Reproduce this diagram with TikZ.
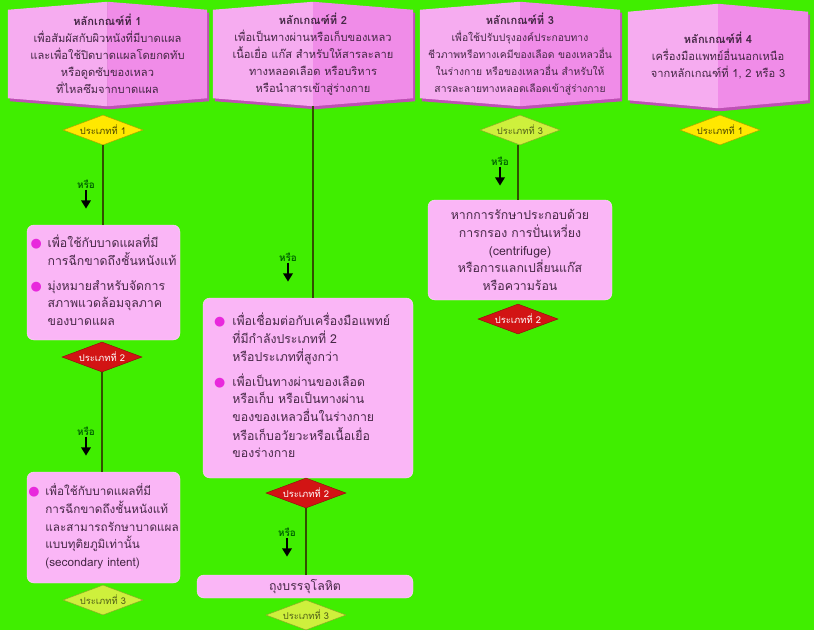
\documentclass[tikz,border=0pt]{standalone}
\usepackage{fontspec}
\setmainfont[Script=Thai]{Loma}
\newfontfamily\dotfont{DejaVu Sans}
\usepackage{tikz}
\usetikzlibrary{shapes.geometric}
\usetikzlibrary{positioning}
\usetikzlibrary{calc}
\usetikzlibrary{backgrounds}
\usetikzlibrary{arrows.meta}

\definecolor{bggreen}{RGB}{64,238,0}
\definecolor{hdrlight}{RGB}{246,172,240}
\definecolor{hdrdark}{RGB}{240,140,232}
\definecolor{hdrshade}{RGB}{190,80,180}
\definecolor{boxpink}{RGB}{250,182,246}
\definecolor{boxedge}{RGB}{255,215,252}
\definecolor{bulmag}{RGB}{232,40,220}
\definecolor{inktext}{RGB}{70,40,70}
\definecolor{linkcol}{RGB}{50,80,0}
\definecolor{orgreen}{RGB}{0,100,0}
\definecolor{typeone}{RGB}{255,232,0}
\definecolor{typetwo}{RGB}{210,20,20}
\definecolor{typethree}{RGB}{206,240,60}

\newdimen\pu \pu=0.03cm

\newcommand{\blt}{{\dotfont\fontsize{11}{11}\selectfont\textcolor{bulmag}{●}}}

% folded banner behind a header node
\newcommand{\banner}[1]{%
  \fill[hdrshade] ($(#1.north west)+(2,11)$) -- ($(#1.north)+(2,3)$) -- ($(#1.north east)+(2,11)$)
    -- ($(#1.south east)+(2,-5)$) -- ($(#1.south)+(2,3)$) -- ($(#1.south west)+(2,-5)$) -- cycle;
  \fill[hdrlight] ($(#1.north west)+(0,8)$) -- (#1.north) -- (#1.south) -- ($(#1.south west)+(0,-8)$) -- cycle;
  \fill[hdrdark] (#1.north) -- ($(#1.north east)+(0,8)$) -- ($(#1.south east)+(0,-8)$) -- (#1.south) -- cycle;}

\tikzset{
  header/.style={minimum height=104*\pu, inner sep=0pt, align=center, text=inktext,
    font=\fontsize{9.5}{14.5}\selectfont},
  box/.style={draw=boxedge, fill=boxpink, rounded corners=7*\pu, inner sep=0pt,
    text=inktext, align=center, font=\fontsize{10.5}{15}\selectfont},
  kind/.style={diamond, aspect=2.6, inner sep=0pt, minimum width=80*\pu,
    minimum height=30*\pu, font=\fontsize{8}{8}\selectfont},
  kindone/.style={kind, fill=typeone, draw=typeone!70!black, text=black!70!typeone},
  kindtwo/.style={kind, fill=typetwo, draw=typetwo!70!black, text=white},
  kindthree/.style={kind, fill=typethree, draw=typethree!70!black, text=black!60!typethree},
  link/.style={draw=linkcol, line width=1.4*\pu},
  orlabel/.style={text=orgreen, inner sep=1pt, font=\bfseries\fontsize{8.5}{8.5}\selectfont},
  orarrow/.style={-{Triangle[width=8pt,length=7pt]}, line width=1.9pt, black}
}

\begin{document}
\begin{tikzpicture}[x=0.03cm, y=-0.03cm]
  \useasboundingbox (0,0) rectangle (814,630);
  \begin{scope}[on background layer]
    \fill[bggreen] (0,0) rectangle (814,630);
  \end{scope}

  % headers
  \node[header, minimum width=199*\pu] (h1) at (107.5,54) {\textbf{หลักเกณฑ์ที่ 1}\\
    เพื่อสัมผัสกับผิวหนังที่มีบาดแผล\\ และเพื่อใช้ปิดบาดแผลโดยกดทับ\\
    หรือดูดซับของเหลว\\ ที่ไหลซึมจากบาดแผล};
  \node[header, minimum width=200*\pu] (h2) at (313,54) {\textbf{หลักเกณฑ์ที่ 2}\\
    เพื่อเป็นทางผ่านหรือเก็บของเหลว\\ เนื้อเยื่อ แก๊ส สำหรับให้สารละลาย\\
    ทางหลอดเลือด หรือบริหาร\\ หรือนำสารเข้าสู่ร่างกาย};
  \node[header, minimum width=200*\pu, font=\fontsize{8.8}{14.5}\selectfont] (h3) at (520,54) {%
    \textbf{\fontsize{9.5}{14.5}\selectfont หลักเกณฑ์ที่ 3}\\
    เพื่อใช้ปรับปรุงองค์ประกอบทาง\\ ชีวภาพหรือทางเคมีของเลือด ของเหลวอื่น\\
    ในร่างกาย หรือของเหลวอื่น สำหรับให้\\ สารละลายทางหลอดเลือดเข้าสู่ร่างกาย};
  \node[header, minimum width=180*\pu] (h4) at (718,56) {\textbf{หลักเกณฑ์ที่ 4}\\
    เครื่องมือแพทย์อื่นนอกเหนือ\\ จากหลักเกณฑ์ที่ 1, 2 หรือ 3};

  \begin{scope}[on background layer]
    \banner{h1} \banner{h2} \banner{h3} \banner{h4}
  \end{scope}

  % column 1
  \node[kindone] (d1a) at (103,130) {ประเภทที่ 1};
  \node[orlabel] (or1a) at (86,184) {หรือ};
  \node[box, minimum width=153*\pu, minimum height=115*\pu] (b1a) at (103.5,282.5) {%
    \begin{tabular}{@{}l@{\hspace{5pt}}l@{}}
      \blt & เพื่อใช้กับบาดแผลที่มี\\
           & การฉีกขาดถึงชั้นหนังแท้\\[6pt]
      \blt & มุ่งหมายสำหรับจัดการ\\
           & สภาพแวดล้อมจุลภาค\\
           & ของบาดแผล
    \end{tabular}};
  \node[kindtwo] (d1b) at (102,357) {ประเภทที่ 2};
  \node[orlabel] (or1b) at (86,431) {หรือ};
  \node[box, minimum width=153*\pu, minimum height=111*\pu,
    font=\fontsize{10}{15}\selectfont] (b1b) at (103.5,527.5) {%
    \begin{tabular}{@{}l@{\hspace{5pt}}l@{}}
      \blt & เพื่อใช้กับบาดแผลที่มี\\
           & การฉีกขาดถึงชั้นหนังแท้\\
           & และสามารถรักษาบาดแผล\\
           & แบบทุติยภูมิเท่านั้น\\
           & (secondary intent)
    \end{tabular}};
  \node[kindthree] (d1c) at (103,600) {ประเภทที่ 3};

  \draw[link] (d1a.south) -- (d1a.south |- b1a.north);
  \draw[link] (d1b.south) -- (d1b.south |- b1b.north);
  \draw[orarrow] (or1a.south) -- ++(0,19);
  \draw[orarrow] (or1b.south) -- ++(0,19);

  % column 2
  \node[orlabel] (or2a) at (288,257) {หรือ};
  \node[box, minimum width=210*\pu, minimum height=180*\pu] (b2a) at (308,388) {%
    \begin{tabular}{@{}l@{\hspace{6pt}}l@{}}
      \blt & เพื่อเชื่อมต่อกับเครื่องมือแพทย์\\
           & ที่มีกำลังประเภทที่ 2\\
           & หรือประเภทที่สูงกว่า\\[6pt]
      \blt & เพื่อเป็นทางผ่านของเลือด\\
           & หรือเก็บ หรือเป็นทางผ่าน\\
           & ของของเหลวอื่นในร่างกาย\\
           & หรือเก็บอวัยวะหรือเนื้อเยื่อ\\
           & ของร่างกาย
    \end{tabular}\hspace*{10pt}};
  \node[kindtwo] (d2b) at (306,493) {ประเภทที่ 2};
  \node[orlabel] (or2b) at (287,532) {หรือ};
  \node[box, minimum width=216*\pu, minimum height=23*\pu] (b2b) at (305,586.5) {ถุงบรรจุโลหิต};
  \node[kindthree] (d2c) at (306,615) {ประเภทที่ 3};

  \draw[link] (h2.south) -- (h2.south |- b2a.north);
  \draw[link] (d2b.south) -- (d2b.south |- b2b.north);
  \draw[orarrow] (or2a.south) -- ++(0,19);
  \draw[orarrow] (or2b.south) -- ++(0,19);

  % column 3
  \node[kindthree] (d3a) at (520,130) {ประเภทที่ 3};
  \node[orlabel] (or3a) at (500,161) {หรือ};
  \node[box, minimum width=184*\pu, minimum height=100*\pu] (b3) at (520,250) {%
    หากการรักษาประกอบด้วย\\ การกรอง การปั่นเหวี่ยง\\ (centrifuge)\\
    หรือการแลกเปลี่ยนแก๊ส\\ หรือความร้อน};
  \node[kindtwo] (d3b) at (518,319) {ประเภทที่ 2};

  \draw[link] ([xshift=-2*\pu]d3a.south) -- ([xshift=-2*\pu]d3a.south |- b3.north);
  \draw[orarrow] (or3a.south) -- ++(0,19);

  % column 4
  \node[kindone] (d4a) at (720,130) {ประเภทที่ 1};
\end{tikzpicture}
\end{document}
